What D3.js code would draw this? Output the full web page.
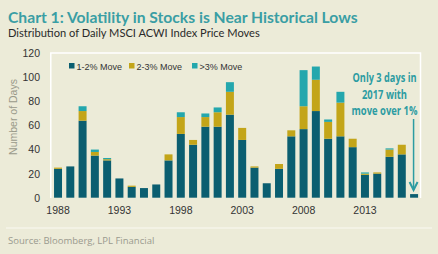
<!DOCTYPE html>
<html><head><meta charset="utf-8">
<script src="https://cdn.jsdelivr.net/npm/d3@7"></script>
<style>
html,body{margin:0;padding:0;background:#ecebd8;}
svg{display:block;}
</style></head>
<body>
<svg id="c" width="438" height="254"></svg>
<script>
const years = d3.range(1988, 2018);
const move12 = [24,26,64,35,31,16,9,8,11,31,53,44,59,59,69,48,25,12,24,51,57,72,49,51,42,19,20,34,36,3];
const move23 = [1,0,8,3,1,0,1,0,0,5,14,4,8,12,19,10,1,0,4,5,19,26,14,28,7,1,1,6,8,0];
const move3p = [0,0,4,2,1,0,0,0,0,0,4,0,3,4,8,0,0,0,0,0,30,11,2,9,0,1,0,1,0,0];
const seriesNames = ["1-2% Move","2-3% Move",">3% Move"];
const colors = ["#0b5e70","#c3a519","#24a7ad"];
const yTicks = [0,20,40,60,80,100,120];
const xTickYears = [1988,1993,1998,2003,2008,2013];

const svg = d3.select("#c");
const W = 438, H = 254;
svg.append("rect").attr("width",W).attr("height",H).attr("fill","#ecebd8");

const table = years.map((y,i)=>({year:y, a:move12[i], b:move23[i], c:move3p[i]}));
const stack = d3.stack().keys(["a","b","c"])(table);

const x = d3.scaleBand().domain(years).range([47.9, 424.2]).paddingInner(0.35).paddingOuter(0.5);
const y = d3.scaleLinear().domain([0,120]).range([197.7, 53.3]);

const fr = svg.append("g").attr("stroke","#ffffff").attr("stroke-width",1.5).attr("fill","none");
fr.append("path").attr("d",`M50.8,198 V53 H420.5 V198`);

function fitText(sel, width){
  const n = sel.node(); const len = n.getComputedTextLength();
  const fs = parseFloat(sel.attr("font-size"));
  sel.attr("font-size", fs*width/len);
}
const t1 = svg.append("text").attr("x",8).attr("y",22.5).attr("font-family","Lato, 'Open Sans', sans-serif")
  .attr("font-weight","bold").attr("font-size",16).attr("fill","#3a9ea4")
  .text("Chart 1: Volatility in Stocks is Near Historical Lows");
fitText(t1, 350);
const t2 = svg.append("text").attr("x",8).attr("y",37).attr("font-family","Lato, 'Open Sans', sans-serif")
  .attr("font-size",11.5).attr("fill","#2a2a2a")
  .text("Distribution of Daily MSCI ACWI Index Price Moves");
fitText(t2, 252);

const g = svg.append("g");
stack.forEach((s,k)=>{
  g.selectAll(null).data(s).join("rect")
    .attr("x", d=>x(d.data.year))
    .attr("width", x.bandwidth())
    .attr("y", d=>y(d[1]))
    .attr("height", d=>Math.max(0, y(d[0])-y(d[1])))
    .attr("fill", colors[k]);
});

const yAxis = d3.axisLeft(y).tickValues(yTicks).tickSize(0).tickPadding(0);
const ya = svg.append("g").attr("transform","translate(40,0)").call(yAxis);
ya.select(".domain").remove();
ya.selectAll("text").attr("font-family","'Liberation Sans', Arial, sans-serif").attr("font-size",10.5).attr("fill","#333");

svg.append("text").attr("transform","translate(17,117) rotate(-90)").attr("text-anchor","middle")
  .attr("font-family","'Liberation Sans', Arial, sans-serif").attr("font-size",10.5).attr("fill","#9a9a8a")
  .text("Number of Days");

const xAxis = d3.axisBottom(x).tickValues(xTickYears).tickSize(0).tickPadding(0);
const xa = svg.append("g").attr("transform","translate(0,207)").call(xAxis);
xa.select(".domain").remove();
xa.selectAll("text").attr("font-family","'Liberation Sans', Arial, sans-serif").attr("font-size",10.5).attr("fill","#333");

const legX = [69,129,192];
seriesNames.forEach((n,i)=>{
  svg.append("rect").attr("x",legX[i]).attr("y",63).attr("width",5.5).attr("height",5.5).attr("fill",colors[i]);
  svg.append("text").attr("x",legX[i]+7.5).attr("y",69.5).attr("font-family","'Liberation Sans', Arial, sans-serif")
    .attr("font-size",9).attr("fill","#333").text(n);
});

const ann = ["Only 3 days in","2017 with","move over 1%"];
const annW = [64,45,66];
const annY = [82, 98.5, 115];
ann.forEach((s,i)=>{
  const t = svg.append("text").attr("x",384.5).attr("y",annY[i]).attr("text-anchor","middle")
    .attr("font-family","'Open Sans', Lato, sans-serif").attr("font-weight","bold")
    .attr("font-size",12.5).attr("fill","#2c9ca2").text(s);
  t.attr("textLength", annW[i]).attr("lengthAdjust","spacingAndGlyphs");
});
const ax = x(2017)+x.bandwidth()/2 - 0.5;
svg.append("line").attr("x1",ax).attr("x2",ax).attr("y1",119).attr("y2",190).attr("stroke","#2c9ca2").attr("stroke-width",1.5);
svg.append("path").attr("d",`M${ax-4},${182} L${ax},${190} L${ax+4},${182}`).attr("fill","none").attr("stroke","#2c9ca2").attr("stroke-width",2);

svg.append("line").attr("x1",6).attr("x2",432).attr("y1",228).attr("y2",228).attr("stroke","#f6f5ea").attr("stroke-width",1.5);
svg.append("text").attr("x",8).attr("y",244).attr("font-family","'Open Sans', Lato, sans-serif")
  .attr("font-size",9.5).attr("fill","#9a9a8e").text("Source: Bloomberg, LPL Financial");
</script>
</body></html>
